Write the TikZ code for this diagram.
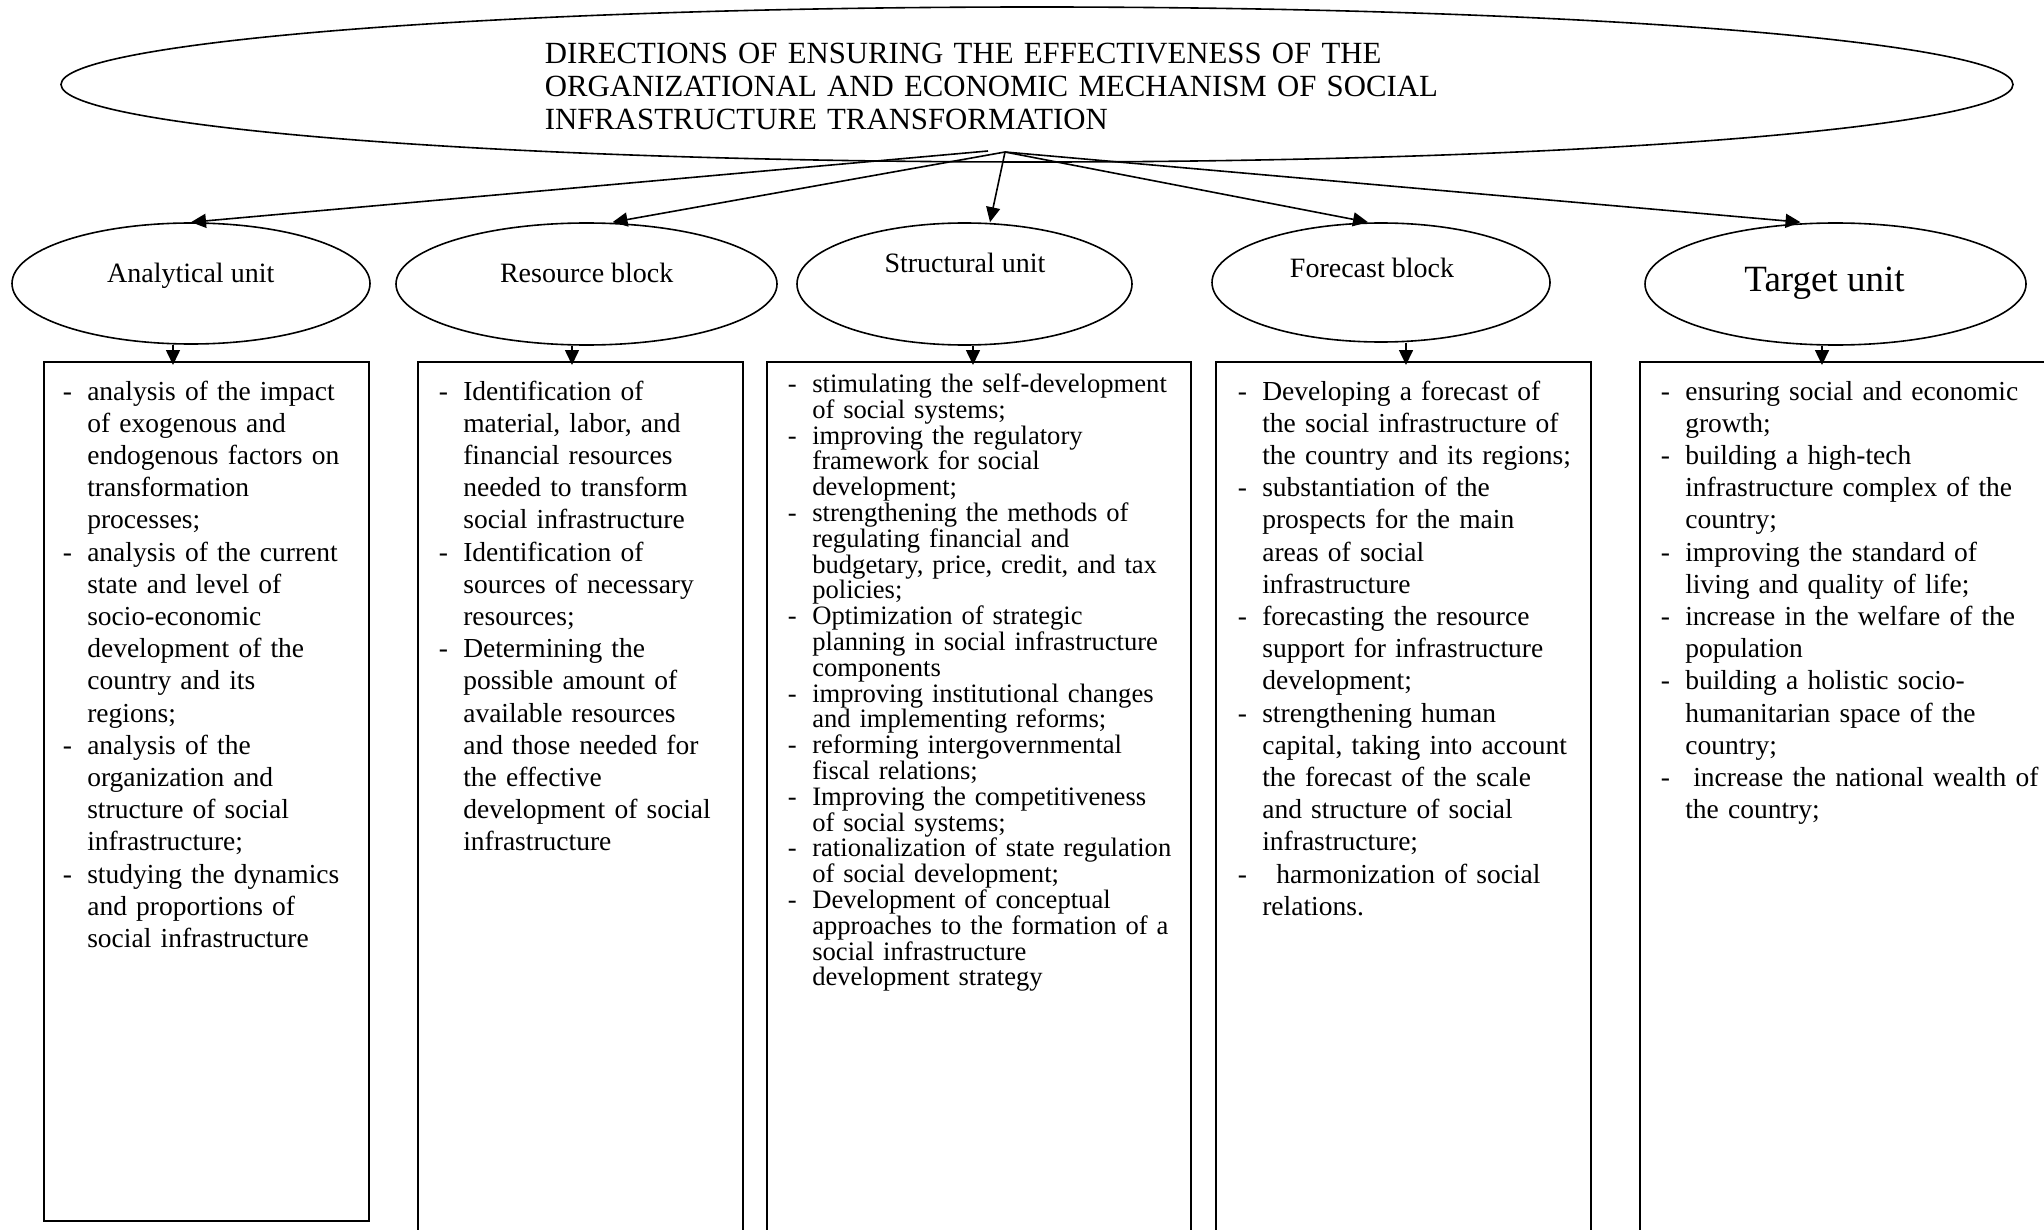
\documentclass[tikz,border=0pt]{standalone}
\usepackage{fontspec}
\setmainfont{Liberation Serif}
\usetikzlibrary{shapes.geometric,arrows.meta,calc}

% hanging list item: a dash, then text whose later lines line up under the first word
\newlength\itemhang
\setlength\itemhang{12.25pt}
\newcommand\bitem[1]{\hangindent=\itemhang\hangafter=1\makebox[\itemhang][l]{-}#1\par}

\begin{document}
\begin{tikzpicture}[x=0.5pt,y=-0.5pt,
  line width=0.8pt,
  oval/.style={ellipse,draw,inner sep=0pt},
  panel/.style={rectangle,draw,inner sep=0pt,anchor=north west},
  unitlabel/.style={anchor=base,inner sep=0pt,font=\fontsize{14}{16.1}\selectfont},
  listtext/.style={anchor=base west,inner sep=0pt,text width=215pt,font=\fontsize{13.75}{16.1}\selectfont},
  arr/.style={-{Triangle[length=7.5pt,width=7pt]}},
]
\useasboundingbox (0,0) rectangle (2044,1230);
\clip (0,0) rectangle (2044,1230);

% main heading
\node[oval,minimum width=976pt,minimum height=77.5pt] (top) at (1037,84.5) {};
\node[anchor=base west,inner sep=0pt,text width=480pt,font=\fontsize{15.4}{16.5}\selectfont] (title) at (544,63.5)
  {\raggedright DIRECTIONS OF ENSURING THE EFFECTIVENESS OF THE\newline
   ORGANIZATIONAL AND ECONOMIC MECHANISM OF SOCIAL\newline
   INFRASTRUCTURE TRANSFORMATION};

% the five units
\node[oval,minimum width=179pt,minimum height=60.5pt] (an) at (191,283.5) {};
\node[oval,minimum width=190.5pt,minimum height=61pt] (rs) at (586.5,284) {};
\node[oval,minimum width=167.5pt,minimum height=61pt] (st) at (964.5,284) {};
\node[oval,minimum width=169pt,minimum height=59.5pt] (fc) at (1381,282.5) {};
\node[oval,minimum width=190.5pt,minimum height=61pt] (tg) at (1835.5,284) {};

\node[unitlabel] (anl) at (190.7,283) {Analytical unit};
\node[unitlabel] (rsl) at (586.7,283) {Resource block};
\node[unitlabel] (stl) at (965,272.5) {Structural unit};
\node[unitlabel] (fcl) at (1372,277.5) {Forecast block};
\node[unitlabel,font=\fontsize{18.5}{21}\selectfont] (tgl) at (1824.5,292) {Target unit};

% content panels
\node[panel,minimum width=162.5pt,minimum height=429.5pt] (b1) at (43,361) {};
\node[panel,minimum width=162.5pt,minimum height=450pt] (b2) at (417,361) {};
\node[panel,minimum width=212pt,minimum height=450pt] (b3) at (766,361) {};
\node[panel,minimum width=187.5pt,minimum height=450pt] (b4) at (1215,361) {};
\node[panel,minimum width=225pt,minimum height=450pt] (b5) at (1639,361) {};

% connectors from the heading
\coordinate (hub) at (1005,152);
\coordinate (hubL) at (988,151);
\draw[arr] (hubL) -- (an.north);
\draw[arr] (hub) -- ($(rs.north)+(26,0)$);
\draw[arr] (hub) -- ($(st.north)+(25.5,0)$);
\draw[arr] (hub) -- ($(fc.north)+(-13,0)$);
\draw[arr] (hub) -- ($(tg.north)+(-35,0)$);

% connectors from units to panels
\draw[arr,shorten >=-2pt] ($(an.south)+(-18,0)$) -- ($(b1.north west)+(130,0)$);
\draw[arr,shorten >=-2pt] ($(rs.south)+(-14.5,0)$) -- ($(b2.north west)+(155,0)$);
\draw[arr,shorten >=-2pt] ($(st.south)+(8.5,0)$) -- ($(b3.north west)+(207,0)$);
\draw[arr,shorten >=-2pt] ($(fc.south)+(25,0)$) -- ($(b4.north west)+(191,0)$);
\draw[arr,shorten >=-2pt] ($(tg.south)+(-13.5,0)$) -- ($(b5.north west)+(183,0)$);

% panel texts
\node[listtext] (t1) at (62,400) {\raggedright
  \bitem{analysis of the impact\newline of exogenous and\newline endogenous factors on\newline transformation\newline processes;}
  \bitem{analysis of the current\newline state and level of\newline socio-economic\newline development of the\newline country and its\newline regions;}
  \bitem{analysis of the\newline organization and\newline structure of social\newline infrastructure;}
  \bitem{studying the dynamics\newline and proportions of\newline social infrastructure}};

\node[listtext] (t2) at (438,400) {\raggedright
  \bitem{Identification of\newline material, labor, and\newline financial resources\newline needed to transform\newline social infrastructure}
  \bitem{Identification of\newline sources of necessary\newline resources;}
  \bitem{Determining the\newline possible amount of\newline available resources\newline and those needed for\newline the effective\newline development of social\newline infrastructure}};

\node[listtext,font=\fontsize{13.3}{12.9}\selectfont] (t3) at (787,392.5) {\raggedright
  \bitem{stimulating the self-development\newline of social systems;}
  \bitem{improving the regulatory\newline framework for social\newline development;}
  \bitem{strengthening the methods of\newline regulating financial and\newline budgetary, price, credit, and tax\newline policies;}
  \bitem{Optimization of strategic\newline planning in social infrastructure\newline components}
  \bitem{improving institutional changes\newline and implementing reforms;}
  \bitem{reforming intergovernmental\newline fiscal relations;}
  \bitem{Improving the competitiveness\newline of social systems;}
  \bitem{rationalization of state regulation\newline of social development;}
  \bitem{Development of conceptual\newline approaches to the formation of a\newline social infrastructure\newline development strategy}};

\node[listtext] (t4) at (1237,400) {\raggedright
  \bitem{Developing a forecast of\newline the social infrastructure of\newline the country and its regions;}
  \bitem{substantiation of the\newline prospects for the main\newline areas of social\newline infrastructure}
  \bitem{forecasting the resource\newline support for infrastructure\newline development;}
  \bitem{strengthening human\newline capital, taking into account\newline the forecast of the scale\newline and structure of social\newline infrastructure;}
  \bitem{\hspace{7pt}harmonization of social\newline relations.}};

\node[listtext] (t5) at (1660,400) {\raggedright
  \bitem{ensuring social and economic\newline growth;}
  \bitem{building a high-tech\newline infrastructure complex of the\newline country;}
  \bitem{improving the standard of\newline living and quality of life;}
  \bitem{increase in the welfare of the\newline population}
  \bitem{building a holistic socio-\newline humanitarian space of the\newline country;}
  \bitem{\hspace{4pt}increase the national wealth of\newline the country;}};
\end{tikzpicture}
\end{document}
